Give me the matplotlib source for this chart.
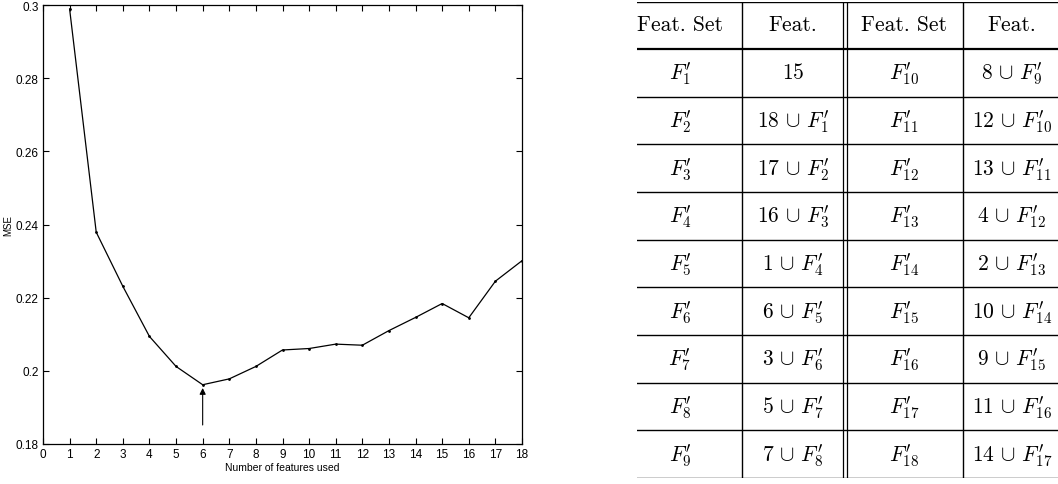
import matplotlib
matplotlib.use('Agg')
import matplotlib.pyplot as plt

plt.rcParams['font.family'] = ['Liberation Sans', 'DejaVu Sans']
plt.rcParams['mathtext.fontset'] = 'cm'

# MSE curve
n_feats = [1, 2, 3, 4, 5, 6, 7, 8, 9, 10, 11, 12, 13, 14, 15, 16, 17, 18]
mse = [0.2989, 0.2379, 0.2231, 0.2094, 0.2012, 0.1962, 0.1978, 0.2012, 0.2057,
       0.2061, 0.2073, 0.2070, 0.2110, 0.2146, 0.2184, 0.2145, 0.2245, 0.2301]
best_n = 6

y_ticks = [0.18, 0.2, 0.22, 0.24, 0.26, 0.28, 0.3]
y_tick_labels = ['0.18', '0.2', '0.22', '0.24', '0.26', '0.28', '0.3']

# table contents
header = ['Feat. Set', 'Feat.', 'Feat. Set', 'Feat.']
set_left = [r"$F^{\prime}_{%d}$" % i for i in range(1, 10)]
feat_left = ['$15$', r'$18 \,\cup\, F^{\prime}_{1}$', r'$17 \,\cup\, F^{\prime}_{2}$',
             r'$16 \,\cup\, F^{\prime}_{3}$', r'$1 \,\cup\, F^{\prime}_{4}$',
             r'$6 \,\cup\, F^{\prime}_{5}$', r'$3 \,\cup\, F^{\prime}_{6}$',
             r'$5 \,\cup\, F^{\prime}_{7}$', r'$7 \,\cup\, F^{\prime}_{8}$']
set_right = [r"$F^{\prime}_{%d}$" % i for i in range(10, 19)]
feat_right = [r'$8 \,\cup\, F^{\prime}_{9}$', r'$12 \,\cup\, F^{\prime}_{10}$',
              r'$13 \,\cup\, F^{\prime}_{11}$', r'$4 \,\cup\, F^{\prime}_{12}$',
              r'$2 \,\cup\, F^{\prime}_{13}$', r'$10 \,\cup\, F^{\prime}_{14}$',
              r'$9 \,\cup\, F^{\prime}_{15}$', r'$11 \,\cup\, F^{\prime}_{16}$',
              r'$14 \,\cup\, F^{\prime}_{17}$']

W, H = 1058, 485
fig = plt.figure(figsize=(W / 100, H / 100), dpi=100)

# ---- left: line plot
ax = fig.add_axes([43 / W, 40 / H, (522 - 43) / W, (445 - 6) / H])
ax.plot(n_feats, mse, color='black', lw=0.9, marker='.', markersize=2)
ax.annotate('', xy=(best_n, 0.1953), xytext=(best_n, 0.1852),
            arrowprops=dict(arrowstyle='-|>', color='black', lw=0.8,
                            mutation_scale=9, shrinkA=0, shrinkB=0))
ax.set_xlim(0, 18)
ax.set_ylim(0.18, 0.3)
ax.set_xticks(range(0, 19))
ax.set_yticks(y_ticks)
ax.set_yticklabels(y_tick_labels)
ax.tick_params(direction='in', top=True, right=True, length=4, width=0.8,
               labelsize=8.5, pad=3)
for s in ax.spines.values():
    s.set_linewidth(0.9)
ax.set_xlabel('Number of features used', fontsize=7.5, labelpad=1)
ax.set_ylabel('MSE', fontsize=7, labelpad=2)

# ---- right: table
tx0, tx1, ty0, ty1 = 637, 1058, 3, 479
tab = fig.add_axes([tx0 / W, (H - ty1) / H, (tx1 - tx0) / W, (ty1 - ty0) / H])
tab.set_xlim(0, tx1 - tx0)
tab.set_ylim(ty1 - ty0, 0)
tab.axis('off')

col_edges = [0, 105, 208, 326, 421]
col_centers = [43, 156, 267, 375]
head_h = 47
row_h = (ty1 - ty0 - head_h) / 9
n_rows = 9

# horizontal rules
tab.axhline(0, color='black', lw=1.0)
tab.axhline(head_h, color='black', lw=1.6)
for r in range(1, n_rows + 1):
    tab.axhline(head_h + r * row_h, color='black', lw=1.0)
# vertical rules (double one in the middle)
for x in [col_edges[1], col_edges[3]]:
    tab.axvline(x, color='black', lw=1.0)
tab.axvline(col_edges[2] - 2, color='black', lw=0.9)
tab.axvline(col_edges[2] + 2, color='black', lw=0.9)

for c, h in enumerate(header):
    tab.text(col_centers[c], head_h / 2 - 1, h, ha='center', va='center',
             fontsize=15.5, family='cmr10')

columns = [set_left, feat_left, set_right, feat_right]
for c, col in enumerate(columns):
    for r, txt in enumerate(col):
        tab.text(col_centers[c], head_h + (r + 0.5) * row_h, txt,
                 ha='center', va='center', fontsize=15.5)

fig.savefig('out.png', dpi=100)
